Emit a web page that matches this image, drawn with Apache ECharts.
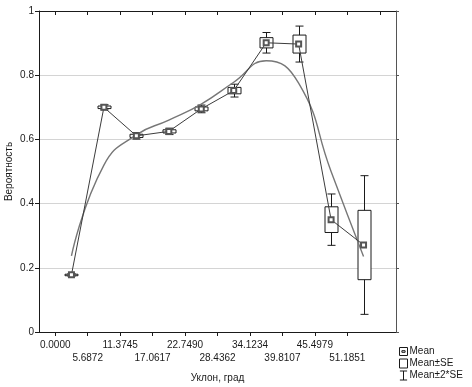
<!DOCTYPE html>
<html>
<head>
<meta charset="utf-8">
<script src="https://cdn.jsdelivr.net/npm/echarts@6/dist/echarts.min.js"></script>
<style>
html, body { margin: 0; padding: 0; background: #fff; }
#chart { width: 472px; height: 387px; }
</style>
</head>
<body>
<div id="chart"></div>
<script>
// bin edges on the slope axis (degrees)
const tickLabels = ['0.0000', '5.6872', '11.3745', '17.0617', '22.7490', '28.4362',
                    '34.1234', '39.8107', '45.4979', '51.1851', '56.8724']
// probability per bin
const means = [0.178, 0.700, 0.611, 0.625, 0.695, 0.752, 0.901, 0.897, 0.350, 0.271]
const se    = [0.002, 0.004, 0.005, 0.005, 0.006, 0.010, 0.016, 0.028, 0.040, 0.108]
// smoothed fit curve read at the bin centres
const fit   = [0.237, 0.520, 0.614, 0.660, 0.710, 0.778, 0.845, 0.775, 0.500, 0.235]
const yTicks = [0, 0.2, 0.4, 0.6, 0.8, 1]

const ticks = tickLabels.map(Number)
const step  = ticks[1] - ticks[0]
const mids  = means.map((_, i) => (ticks[i] + ticks[i + 1]) / 2)

const FONT = '"Liberation Sans", Arial, sans-serif'
const INK  = '#1a1a1a'

const boxData = means.map((m, i) => [mids[i], m, se[i]])

function renderWhisker(params, api) {
  const x = api.value(0), m = api.value(1), s = api.value(2)
  const top = api.coord([x, m + 2 * s])
  const bot = api.coord([x, m - 2 * s])
  const cx = Math.round(top[0]) + 0.5, hw = 4
  const st = { stroke: INK, lineWidth: 1 }
  return {
    type: 'group',
    children: [
      { type: 'line', shape: { x1: cx, y1: top[1], x2: cx, y2: bot[1] }, style: st },
      { type: 'line', shape: { x1: cx - hw, y1: top[1], x2: cx + hw, y2: top[1] }, style: st },
      { type: 'line', shape: { x1: cx - hw, y1: bot[1], x2: cx + hw, y2: bot[1] }, style: st },
    ],
  }
}

function renderBox(params, api) {
  const x = api.value(0), m = api.value(1), s = api.value(2)
  const top = api.coord([x, m + s])
  const bot = api.coord([x, m - s])
  const cx = Math.round(top[0]) + 0.5, hw = 6.5
  return {
    type: 'rect',
    shape: { x: cx - hw, y: top[1], width: hw * 2, height: Math.max(bot[1] - top[1], 1.5) },
    style: { fill: '#fff', stroke: INK, lineWidth: 1 },
  }
}

const chart = echarts.init(document.getElementById('chart'), null, { renderer: 'canvas' })

const xBase = {
  type: 'value',
  min: ticks[0] - step / 2,
  max: ticks[ticks.length - 1] + step / 2,
  splitLine: { show: false },
  axisLine: { show: true, onZero: false, lineStyle: { color: INK, width: 1 } },
}

chart.setOption({
  animation: false,
  backgroundColor: '#fff',
  textStyle: { fontFamily: FONT },
  grid: { left: 39, right: 76, top: 11, bottom: 55, outerBoundsMode: 'none', containLabel: false },
  legend: {
    orient: 'vertical',
    left: 399, top: 346,
    padding: 0,
    height: 41,
    itemWidth: 8, itemHeight: 9, itemGap: 1,
    textStyle: { fontFamily: FONT, fontSize: 10, color: INK, lineHeight: 11, padding: [0, 0, 0, -3] },
    data: [
      { name: 'Mean', icon: 'path://M0,0H10V10H0ZM3,4H7V6H3Z',
        itemStyle: { color: 'transparent', borderColor: INK, borderWidth: 1 } },
      { name: 'Mean±SE', icon: 'rect',
        itemStyle: { color: 'transparent', borderColor: INK, borderWidth: 1 } },
      { name: 'Mean±2*SE', icon: 'path://M0,0H8M4,0V10M0,10H8',
        itemStyle: { color: 'transparent', borderColor: INK, borderWidth: 1 } },
    ],
  },
  xAxis: [
    Object.assign({}, xBase, {
      position: 'bottom',
      name: 'Уклон, град',
      nameLocation: 'middle',
      nameGap: 41,
      nameTextStyle: { fontFamily: FONT, fontSize: 10, color: INK },
      axisTick: { show: true, length: 4, customValues: ticks, lineStyle: { color: INK } },
      axisLabel: {
        customValues: ticks,
        fontFamily: FONT, fontSize: 10, color: INK, margin: 7, lineHeight: 13,
        formatter: v => {
          const i = ticks.findIndex(t => Math.abs(t - v) < 1e-6)
          if (i < 0) return ''
          return i % 2 ? '\n' + tickLabels[i] : tickLabels[i]
        },
      },
    }),
    Object.assign({}, xBase, {
      position: 'top',
      axisTick: { show: true, inside: true, length: 4, customValues: ticks, lineStyle: { color: INK } },
      axisLabel: { show: false },
    }),
  ],
  yAxis: [
    {
      type: 'value', min: 0, max: 1, interval: 0.2, position: 'left',
      name: 'Вероятность',
      nameLocation: 'middle',
      nameGap: 25,
      nameMoveOverlap: false,
      nameTextStyle: { fontFamily: FONT, fontSize: 10, color: INK },
      axisLine: { show: true, onZero: false, lineStyle: { color: INK } },
      axisTick: { show: true, length: 4, lineStyle: { color: INK } },
      axisLabel: { fontFamily: FONT, fontSize: 10, color: INK, margin: 5,
        formatter: v => String(yTicks.find(t => Math.abs(t - v) < 1e-6) ?? '') },
      splitLine: { show: true, lineStyle: { color: '#d4d4d4', width: 1 } },
    },
    {
      type: 'value', min: 0, max: 1, interval: 0.2, position: 'right',
      axisLine: { show: true, onZero: false, lineStyle: { color: '#555' } },
      axisTick: { show: true, length: 3, lineStyle: { color: '#555' } },
      axisLabel: { show: false },
      splitLine: { show: false },
    },
  ],
  series: [
    {
      name: 'Mean±2*SE', type: 'custom', renderItem: renderWhisker,
      data: boxData, encode: { x: 0, y: 1 }, z: 2, silent: true,
    },
    {
      name: 'Mean±SE', type: 'custom', renderItem: renderBox,
      data: boxData, encode: { x: 0, y: 1 }, z: 3, silent: true,
    },
    {
      name: 'fit', type: 'line', smooth: 0.5, symbol: 'none', z: 4,
      data: fit.map((v, i) => [mids[i], v]),
      lineStyle: { color: '#777', width: 1.4 },
    },
    {
      name: 'Mean', type: 'line', z: 5,
      data: means.map((v, i) => [mids[i], v]),
      symbol: 'emptyRect', symbolSize: 5, showAllSymbol: true,
      lineStyle: { color: '#3c3c3c', width: 1 },
      itemStyle: { color: '#555', borderColor: '#555', borderWidth: 0.7 },
    },
  ],
})
</script>
</body>
</html>
